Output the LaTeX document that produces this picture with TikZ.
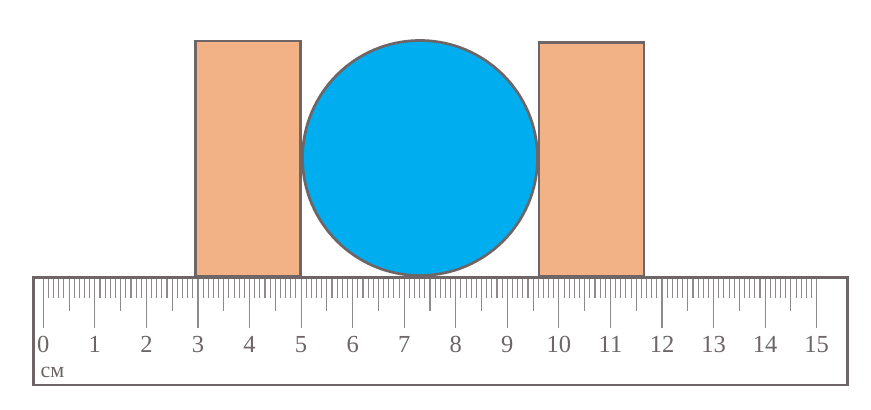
\documentclass[tikz,border=0pt]{standalone}
\usepackage{fontspec}
\setmainfont{Liberation Serif}
\definecolor{strokegray}{HTML}{6D6566}
\definecolor{tickgray}{HTML}{8F8B8B}
\definecolor{blockorange}{HTML}{F3B186}
\definecolor{ballblue}{HTML}{00AEEF}
\tikzset{
  blockbox/.style={draw=strokegray, fill=blockorange, line width=2.7pt, rectangle, inner sep=0pt, outer sep=0pt},
  ball/.style={draw=strokegray, fill=ballblue, line width=2.7pt, circle, inner sep=0pt, outer sep=0pt},
  rulerbox/.style={draw=strokegray, fill=white, line width=2.7pt, rectangle, inner sep=0pt, outer sep=0pt},
  tickline/.style={draw=tickgray, line width=1.1pt},
  numlabel/.style={text=strokegray, font=\fontsize{24.5}{27}\selectfont, inner sep=0pt},
  unitlabel/.style={text=strokegray, font=\fontsize{22}{25}\selectfont, inner sep=0pt}
}
\begin{document}
\begin{tikzpicture}[x=1pt,y=-1pt]
\useasboundingbox (0,0) rectangle (871,410);
% ruler body
\node[rulerbox, minimum width=814pt, minimum height=107.5pt] (ruler) at (440.5,331.25) {};
% ticks
\foreach \i in {0,...,150}{
  \pgfmathsetmacro\xx{43.3+\i*5.156}
  \pgfmathsetmacro\yy{ifthenelse(mod(\i,10)==0,328,ifthenelse(mod(\i,5)==0,311,298))}
  \draw[tickline] (\xx,278.8) -- (\xx,\yy);
}
% numbers
\foreach \k in {0,...,15}{
  \node[numlabel, anchor=base] (n\k) at ({43.3+\k*51.56},352) {\k};
}
\node[unitlabel, anchor=base west] (unit) at (40.5,377) {см};
% blocks
\node[blockbox, minimum width=105pt, minimum height=235pt] (leftblock) at (248.2,158.5) {};
\node[blockbox, minimum width=105pt, minimum height=234pt] (rightblock) at (591.5,159.2) {};
% ball
\node[ball, minimum size=235pt] (ballnode) at (420,158) {};
\end{tikzpicture}
\end{document}
